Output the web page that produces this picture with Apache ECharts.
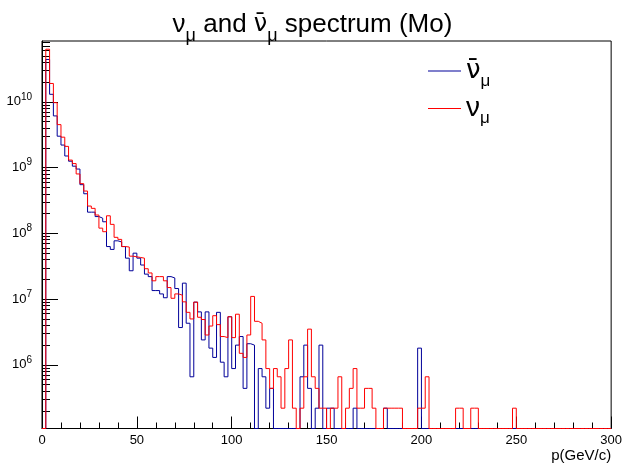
<!DOCTYPE html>
<html>
<head>
<meta charset="utf-8">
<script src="https://cdn.jsdelivr.net/npm/echarts@6/dist/echarts.min.js"></script>
<style>
html, body { margin: 0; padding: 0; background: #fff; }
#chart { width: 625px; height: 468px; }
</style>
</head>
<body>
<div id="chart"></div>
<script>
// histogram binning (GeV/c)
const binWidth = 2
const xMin = 0
const xMax = 300
// log y range of the frame
const yMin = 1.08e5
const yMax = 8.4e10

// nu_mu (red), 150 bins of 2 GeV/c
const nuMu = [
  0, 6.3e10, 1.9e10, 9.7e9, 4.5e9, 2.9e9, 2.1e9, 1.3e9, 1.15e9, 8.0e8,
  5.7e8, 4.4e8, 2.6e8, 2.4e8, 1.9e8, 1.2e8, 1.06e8, 1.85e8, 1.37e8, 8.7e7,
  8.1e7, 6.3e7, 6.2e7, 4.5e7, 4.4e7, 4.3e7, 4.2e7, 2.9e7, 2.5e7, 1.9e7,
  2.2e7, 2.2e7, 1.9e7, 1.5e7, 1.03e7, 1.2e7, 1.15e7, 9.1e6, 6.3e6, 5.0e6,
  9.0e6, 5.3e6, 4.9e6, 2.85e6, 3.9e6, 5.6e6, 4.1e6, 2.7e6, 2.6e6, 5.4e6,
  2.6e6, 5.9e6, 1.5e6, 1.3e6, 2.85e6, 1.1e7, 4.6e6, 4.3e6, 2.4e6, 8.8e5,
  4.4e5, 8.8e5, 6.6e5, 2.2e5, 8.8e5, 2.4e6, 2.2e5, 0, 2.2e5, 6.6e5,
  3.5e6, 6.6e5, 4.4e5, 2.2e5, 2.2e5, 0, 2.2e5, 2.2e5, 6.6e5, 0,
  2.2e5, 4.4e5, 8.8e5, 2.2e5, 2.2e5, 4.4e5, 4.4e5, 2.2e5, 0, 0,
  2.2e5, 2.2e5, 2.2e5, 2.2e5, 2.2e5, 0, 0, 0, 0, 2.2e5,
  2.2e5, 6.6e5, 0, 0, 0, 0, 0, 0, 0, 2.2e5,
  2.2e5, 0, 0, 2.2e5, 2.2e5, 0, 0, 0, 0, 0,
  0, 0, 0, 0, 2.2e5, 0, 0, 0, 0, 0,
  0, 0, 0, 0, 0, 0, 0, 0, 0, 0,
  0, 0, 0, 0, 0, 0, 0, 0, 0, 0
]

// anti nu_mu (blue)
const nuMuBar = [
  0, 4.4e10, 1.3e10, 6.1e9, 3.0e9, 2.2e9, 1.5e9, 1.25e9, 1.05e9, 9.5e8,
  5.5e8, 4.0e8, 2.1e8, 2.1e8, 1.8e8, 1.7e8, 1.5e8, 6.3e7, 5.7e7, 7.7e7,
  7.4e7, 6.3e7, 4.2e7, 2.7e7, 5.0e7, 4.2e7, 3.3e7, 2.4e7, 2.2e7, 1.35e7,
  1.35e7, 1.2e7, 1.05e7, 2.2e7, 2.1e7, 1.45e7, 3.7e6, 1.75e7, 4.3e6, 6.6e5,
  9.0e6, 6.4e6, 2.4e6, 6.4e6, 1.8e6, 1.3e6, 6.3e6, 1.1e6, 6.6e5, 5.4e6,
  8.8e5, 2.0e6, 2.7e6, 4.4e5, 2.1e6, 2.0e6, 0, 8.8e5, 6.6e5, 2.2e5,
  4.4e5, 0, 0, 0, 0, 0, 0, 0, 6.6e5, 2.0e6,
  4.4e5, 0, 2.2e5, 2.0e6, 0, 2.2e5, 2.2e5, 0, 0, 0,
  0, 0, 2.2e5, 0, 0, 0, 0, 0, 0, 0,
  2.2e5, 0, 0, 0, 0, 0, 0, 0, 0, 1.8e6,
  0, 0, 0, 0, 0, 0, 0, 0, 0, 0,
  0, 0, 0, 0, 0, 0, 0, 0, 0, 0,
  0, 0, 0, 0, 0, 0, 0, 0, 0, 0,
  0, 0, 0, 0, 0, 0, 0, 0, 0, 0,
  0, 0, 0, 0, 0, 0, 0, 0, 0, 0
]

const decadeTicks = [1e6, 1e7, 1e8, 1e9, 1e10]
const minorTicks = []
for (let d = 1e5; d < yMax; d *= 10) {
  for (let k = 2; k <= 9; k++) {
    const v = k * d
    if (v > yMin && v < yMax) minorTicks.push(v)
  }
}

const font = 'Liberation Sans, Arial, Helvetica, sans-serif'
const barFont = 'DejaVu Sans, sans-serif'
const nuBar = 'ν\u0304'

// histogram -> step points at the bin edges, empty bins sit on the frame floor
function toSteps(values) {
  const pts = values.map((v, i) => [xMin + i * binWidth, v > 0 ? v : yMin])
  pts.push([xMin + values.length * binWidth, yMin])
  return pts
}

const chart = echarts.init(document.getElementById('chart'), null, { renderer: 'canvas' })

chart.setOption({
  animation: false,
  backgroundColor: '#fff',
  title: {
    text: '{n|ν}{s|μ}{t| and }{m|' + nuBar + '}{s|μ}{t| spectrum (Mo)}',
    left: 'center',
    top: 0,
    textStyle: {
      fontWeight: 'normal',
      rich: {
        n: { fontSize: 26, lineHeight: 40, fontWeight: 'normal', fontFamily: font, color: '#000' },
        m: { fontSize: 24, lineHeight: 40, fontWeight: 'normal', fontFamily: barFont, color: '#000' },
        t: { fontSize: 26, lineHeight: 40, fontWeight: 'normal', fontFamily: font, color: '#000' },
        s: { fontSize: 18, lineHeight: 18, fontWeight: 'normal', verticalAlign: 'bottom', fontFamily: font, color: '#000' }
      }
    }
  },
  legend: {
    data: ['numubar', 'numu'],
    orient: 'vertical',
    left: 428,
    top: 58,
    padding: 0,
    itemGap: 5,
    itemWidth: 33,
    itemHeight: 1,
    icon: 'rect',
    selectedMode: false,
    formatter: name => name === 'numubar' ? '{m|' + nuBar + '}{s|μ}' : '{n|ν}{s|μ}',
    textStyle: {
      rich: {
        n: { fontSize: 28, lineHeight: 37, fontFamily: font, color: '#000' },
        m: { fontSize: 26, lineHeight: 37, fontFamily: barFont, color: '#000' },
        s: { fontSize: 17, lineHeight: 17, verticalAlign: 'bottom', fontFamily: font, color: '#000' }
      }
    }
  },
  grid: {
    left: 42,
    right: 11,
    top: 41,
    bottom: 39.5,
    show: true,
    borderColor: '#000',
    borderWidth: 1
  },
  xAxis: {
    type: 'value',
    min: xMin,
    max: xMax,
    interval: 50,
    name: 'p(GeV/c)',
    nameLocation: 'end',
    nameGap: 0,
    nameTextStyle: {
      fontSize: 15,
      fontFamily: font,
      color: '#000',
      align: 'right',
      verticalAlign: 'top',
      padding: [20, 0, 0, 0]
    },
    axisLine: { lineStyle: { color: '#000', width: 1 } },
    axisTick: { inside: true, length: 12, lineStyle: { color: '#000' } },
    minorTick: { show: true, splitNumber: 5, length: 6, lineStyle: { color: '#000' } },
    axisLabel: { fontSize: 13, fontFamily: font, color: '#000', margin: 5 },
    splitLine: { show: false }
  },
  yAxis: [
    {
      type: 'log',
      logBase: 10,
      min: yMin,
      max: yMax,
      axisLine: { show: true, lineStyle: { color: '#000', width: 1 } },
      axisTick: { inside: true, length: 16, customValues: decadeTicks, lineStyle: { color: '#000' } },
      axisLabel: {
        customValues: decadeTicks,
        margin: 10,
        formatter: v => '{b|10}{e|' + Math.round(Math.log10(v)) + '}',
        rich: {
          b: { fontSize: 13, lineHeight: 20, fontFamily: font, color: '#000' },
          e: { fontSize: 10, lineHeight: 10, verticalAlign: 'top', fontFamily: font, color: '#000' }
        }
      },
      splitLine: { show: false }
    },
    {
      type: 'log',
      logBase: 10,
      min: yMin,
      max: yMax,
      position: 'left',
      axisLine: { show: false },
      axisTick: { inside: true, length: 8, customValues: minorTicks, lineStyle: { color: '#000' } },
      axisLabel: { show: false },
      splitLine: { show: false }
    }
  ],
  series: [
    {
      name: 'numubar',
      type: 'line',
      step: 'end',
      symbol: 'none',
      clip: true,
      yAxisIndex: 0,
      lineStyle: { color: '#000099', width: 1 },
      itemStyle: { color: '#000099' },
      data: toSteps(nuMuBar)
    },
    {
      name: 'numu',
      type: 'line',
      step: 'end',
      symbol: 'none',
      clip: true,
      yAxisIndex: 0,
      lineStyle: { color: '#ff0000', width: 1 },
      itemStyle: { color: '#ff0000' },
      data: toSteps(nuMu)
    }
  ]
})
</script>
</body>
</html>
